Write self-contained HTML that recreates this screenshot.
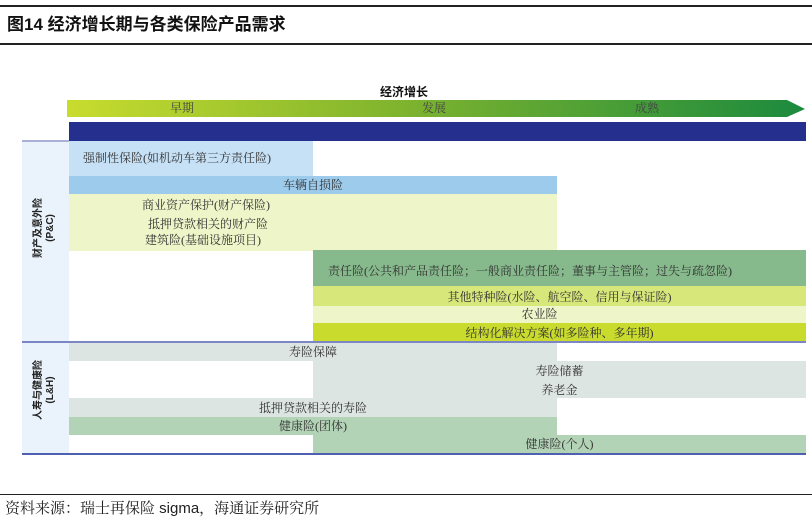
<!DOCTYPE html>
<html><head><meta charset="utf-8"><style>
body{margin:0;width:812px;height:523px;background:#fff;position:relative;overflow:hidden;font-family:"Liberation Serif","Noto Serif CJK SC",serif;color:#333}
.a{position:absolute;box-sizing:border-box}
.t{font-size:12px;text-align:center;white-space:nowrap;line-height:18px}
.s{font-family:"Liberation Sans","Noto Sans CJK SC",sans-serif}
</style></head><body>
<div class="a" style="left:0;top:5px;width:812px;height:2px;background:#222"></div>
<div class="a s" style="left:7px;top:13px;font-size:17px;font-weight:bold;color:#111;line-height:24px">图14 经济增长期与各类保险产品需求</div>
<div class="a" style="left:0;top:43px;width:812px;height:2px;background:#222"></div>

<div class="a s" style="left:380px;top:83px;font-size:12px;font-weight:bold;color:#111">经济增长</div>
<svg class="a" style="left:67px;top:100px" width="740" height="18">
<defs><linearGradient id="g"><stop offset="0" stop-color="#c8dc2e"/><stop offset="0.45" stop-color="#7fb42e"/><stop offset="1" stop-color="#1b8a3e"/></linearGradient></defs>
<polygon points="0,0 720,0 738,9 720,17 0,17" fill="url(#g)"/></svg>
<div class="a t" style="left:170px;top:99px;color:#444">早期</div>
<div class="a t" style="left:422px;top:99px;color:#444">发展</div>
<div class="a t" style="left:635px;top:99px;color:#444">成熟</div>
<div class="a" style="left:69px;top:122px;width:737px;height:19px;background:#25308e"></div>

<div class="a" style="left:22px;top:140px;width:47px;height:314px;background:#eaf3fb"></div>
<div class="a" style="left:22px;top:140px;width:47px;height:2px;background:#a9b1d6"></div>
<div class="a s" style="left:45px;top:228px;transform:translate(-50%,-50%) rotate(-90deg);font-size:10px;font-weight:bold;text-align:center;line-height:12px;color:#222;white-space:nowrap">财产及意外险<br>(P&amp;C)</div>
<div class="a s" style="left:45px;top:390px;transform:translate(-50%,-50%) rotate(-90deg);font-size:10px;font-weight:bold;text-align:center;line-height:12px;color:#222;white-space:nowrap">人寿与健康险<br>(L&amp;H)</div>

<div class="a t" style="left:69px;top:141px;width:244px;height:35px;background:#c6e0f5;line-height:35px;text-align:left;padding-left:14px">强制性保险(如机动车第三方责任险)</div>
<div class="a t" style="left:69px;top:176px;width:488px;height:18px;background:#9ccbec">车辆自损险</div>
<div class="a" style="left:69px;top:194px;width:488px;height:57px;background:#eef5c9"></div>
<div class="a t" style="left:142px;top:196px">商业资产保护(财产保险)</div>
<div class="a t" style="left:148px;top:215px">抵押贷款相关的财产险</div>
<div class="a t" style="left:145px;top:231px">建筑险(基础设施项目)</div>

<div class="a t" style="left:313px;top:250px;width:493px;height:36px;background:#86b98b;line-height:42px;text-align:left;padding-left:15px">责任险(公共和产品责任险；一般商业责任险；董事与主管险；过失与疏忽险)</div>
<div class="a t" style="left:313px;top:286px;width:493px;height:20px;background:#d8e77a;line-height:22px">其他特种险(水险、航空险、信用与保证险)</div>
<div class="a t" style="left:313px;top:306px;width:493px;height:17px;background:#eef5c9;line-height:17px;padding-right:40px">农业险</div>
<div class="a t" style="left:313px;top:323px;width:493px;height:19px;background:#c9db2c;line-height:21px">结构化解决方案(如多险种、多年期)</div>
<div class="a" style="left:22px;top:341px;width:784px;height:2px;background:#7c86c4"></div>

<div class="a t" style="left:69px;top:343px;width:488px;height:18px;background:#dde5e2">寿险保障</div>
<div class="a" style="left:313px;top:361px;width:493px;height:37px;background:#dde5e2"></div>
<div class="a t" style="left:313px;top:362px;width:493px">寿险储蓄</div>
<div class="a t" style="left:313px;top:381px;width:493px">养老金</div>
<div class="a t" style="left:69px;top:398px;width:488px;height:19px;background:#dde5e2;line-height:20px">抵押贷款相关的寿险</div>
<div class="a t" style="left:69px;top:417px;width:488px;height:18px;background:#b3d3b6">健康险(团体)</div>
<div class="a t" style="left:313px;top:435px;width:493px;height:19px;background:#b3d3b6">健康险(个人)</div>
<div class="a" style="left:22px;top:453px;width:784px;height:2px;background:#5060b0"></div>

<div class="a" style="left:0;top:494px;width:812px;height:1px;background:#222"></div>
<div class="a" style="left:5px;top:499px;font-size:15px;line-height:20px;color:#222;font-family:'Liberation Sans','Noto Serif CJK SC',serif">资料来源：瑞士再保险 sigma，海通证券研究所</div>
</body></html>
